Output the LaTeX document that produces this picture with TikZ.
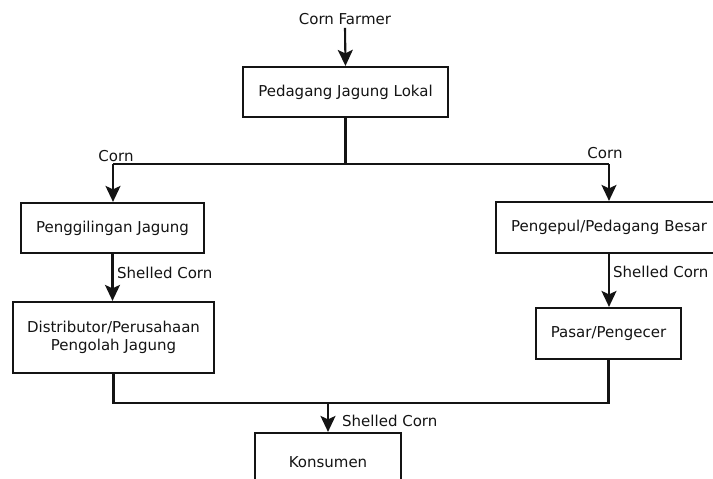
\documentclass[tikz,border=0pt]{standalone}
\usepackage{fontspec}
\setmainfont{DejaVu Sans}
\usetikzlibrary{arrows.meta}
\definecolor{ink}{HTML}{141414}
\begin{document}
\begin{tikzpicture}[x=1pt,y=-1pt,
  every node/.style={font=\fontsize{15}{18}\selectfont, text=ink},
  box/.style={draw=ink, line width=2.2pt, align=center, inner sep=0pt, fill=white},
  link/.style={draw=ink, line width=2.1pt},
  arr/.style={link, -{Stealth[length=16pt,width=15pt,inset=3.5pt]}},
  lab/.style={inner sep=0pt}]
\useasboundingbox (0,0) rectangle (713,479);
\fill[white] (0,0) rectangle (713,479);

\node[lab] (cf) at (345,19) {Corn Farmer};
\node[box, minimum width=205pt, minimum height=50pt] (pjl) at (345.5,92) {Pedagang Jagung Lokal};
\node[box, minimum width=183pt, minimum height=50pt] (pg) at (112.5,228) {Penggilingan Jagung};
\node[box, minimum width=201pt, minimum height=71pt] (dist) at (113.5,337.5) {Distributor/Perusahaan\\Pengolah Jagung};
\node[box, minimum width=226pt, minimum height=51pt] (pp) at (609,227.5) {Pengepul/Pedagang Besar};
\node[box, minimum width=145pt, minimum height=51pt] (pasar) at (608.5,333.5) {Pasar/Pengecer};
\node[box, minimum width=146pt, minimum height=62pt] (kons) at (328,464) {};
\node[lab] (konst) at (328,462) {Konsumen};

\coordinate (jl) at (113,164);
\coordinate (jr) at (609,164);
\coordinate (kj) at (328,403);

\draw[arr] (cf.south) ++(0,3) -- (pjl.north);
\draw[link] (pjl.south) -- (pjl.south |- jl);
\draw[link] (jl) -- (jr);
\draw[arr] (jl) -- (jl |- pg.north);
\draw[arr] (jr) -- (jr |- pp.north);
\node[lab] (cl) at (116,156) {Corn};
\node[lab] (cr) at (605,153) {Corn};

\draw[arr] (pg.south) -- (pg.south |- dist.north);
\node[lab, anchor=west] (sc1) at (117,273) {Shelled Corn};
\draw[arr] (pp.south) -- (pp.south |- pasar.north);
\node[lab, anchor=west] (sc2) at (613,272) {Shelled Corn};

\draw[link] (dist.south) |- (kj) -| (pasar.south);
\draw[arr] (kj) -- (kons.north);
\node[lab, anchor=west] (sc3) at (342,421) {Shelled Corn};
\end{tikzpicture}
\end{document}
